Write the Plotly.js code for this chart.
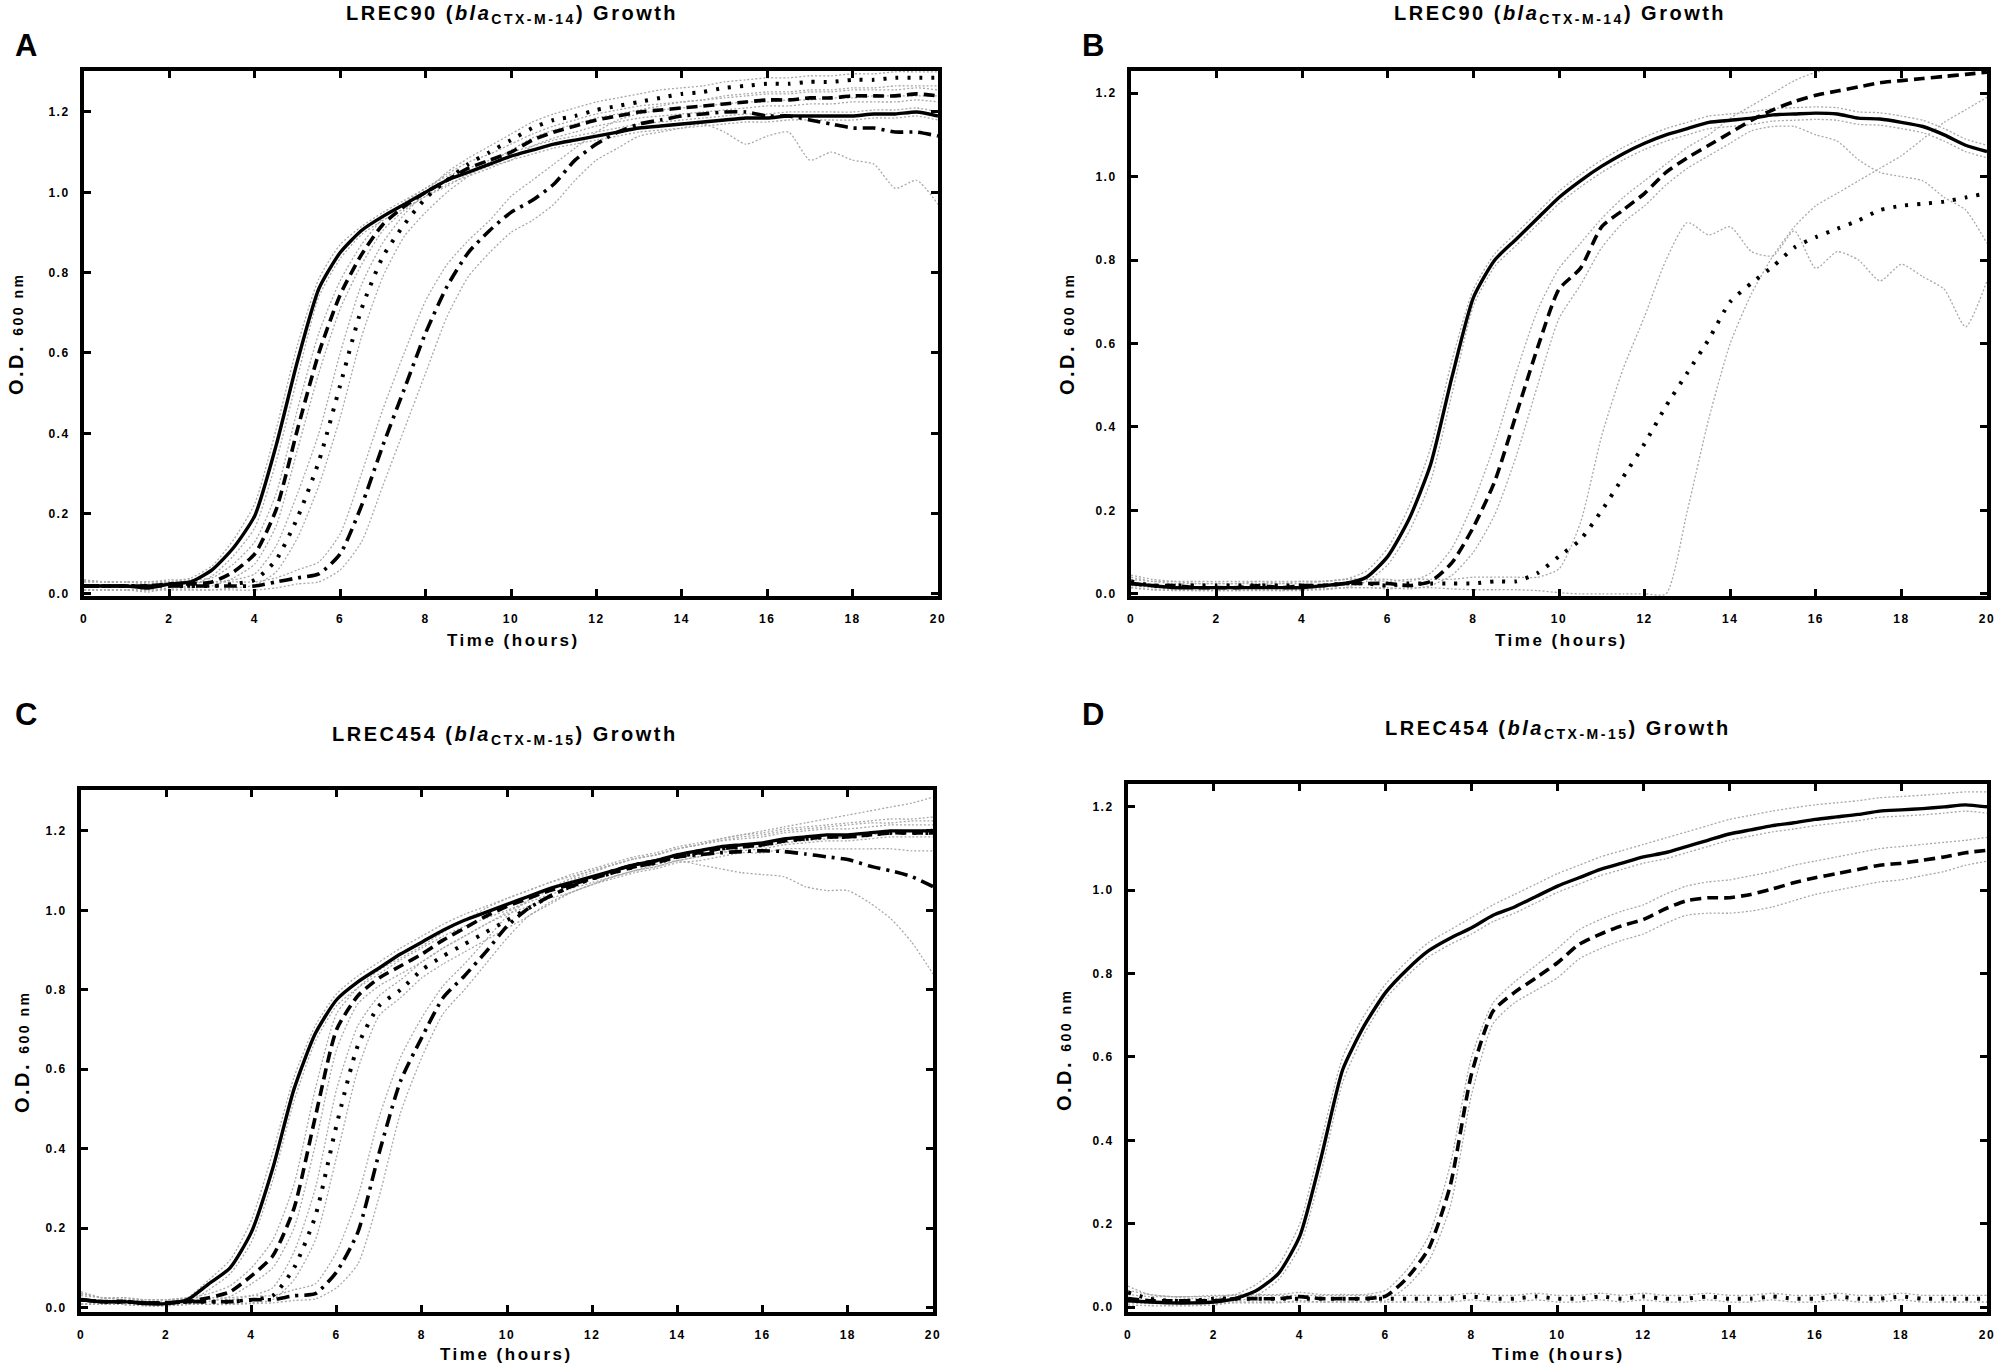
<!DOCTYPE html>
<html>
<head>
<meta charset="utf-8">
<script src="https://cdn.plot.ly/plotly-3.0.1.min.js"></script>
<style>
  html, body { margin:0; padding:0; background:#fff; }
  #chart { width:2000px; height:1365px; }
  .annotation-text { letter-spacing: 2.5px; }
  [class$="tick"] text { letter-spacing: 1.5px; }
</style>
</head>
<body>
<div id="chart"></div>
<script>
// ---------- time axis (hours) ----------
const T = [0,0.5,1,1.5,2,2.5,3,3.5,4,4.5,5,5.5,6,6.5,7,7.5,8,8.5,9,9.5,10,10.5,11,11.5,12,12.5,13,13.5,14,14.5,15,15.5,16,16.5,17,17.5,18,18.5,19,19.5,20];
const xTicks = [0,2,4,6,8,10,12,14,16,18,20];
const yTicks = [0,0.2,0.4,0.6,0.8,1.0,1.2];

// ---------- Panel A : LREC90 ----------
const A1  = [0.02,0.02,0.02,0.015,0.025,0.03,0.06,0.115,0.195,0.37,0.58,0.76,0.85,0.905,0.94,0.97,1.00,1.03,1.05,1.07,1.09,1.105,1.12,1.13,1.14,1.15,1.16,1.165,1.17,1.175,1.18,1.185,1.185,1.19,1.19,1.19,1.19,1.195,1.195,1.20,1.19];
const A1u = [0.035,0.03,0.03,0.025,0.03,0.04,0.07,0.135,0.225,0.41,0.62,0.785,0.87,0.915,0.95,0.98,1.01,1.04,1.06,1.08,1.10,1.115,1.13,1.14,1.15,1.16,1.17,1.175,1.18,1.185,1.19,1.195,1.195,1.2,1.2,1.2,1.2,1.205,1.205,1.21,1.20];
const A1l = [0.01,0.01,0.01,0.005,0.015,0.02,0.045,0.095,0.165,0.33,0.54,0.74,0.835,0.895,0.93,0.96,0.99,1.02,1.04,1.06,1.08,1.095,1.11,1.12,1.13,1.14,1.15,1.155,1.16,1.165,1.17,1.175,1.175,1.18,1.18,1.18,1.18,1.185,1.185,1.19,1.18];
const A2  = [0.02,0.02,0.02,0.02,0.025,0.025,0.03,0.055,0.10,0.21,0.41,0.60,0.745,0.845,0.92,0.965,1.00,1.03,1.06,1.08,1.10,1.13,1.15,1.165,1.18,1.19,1.20,1.205,1.21,1.215,1.22,1.225,1.23,1.23,1.235,1.235,1.24,1.24,1.24,1.245,1.24];
const A2u = [0.035,0.03,0.03,0.03,0.035,0.035,0.04,0.075,0.13,0.25,0.46,0.65,0.78,0.87,0.935,0.975,1.01,1.045,1.075,1.095,1.12,1.145,1.165,1.18,1.195,1.205,1.215,1.22,1.225,1.23,1.235,1.24,1.245,1.245,1.25,1.25,1.255,1.255,1.255,1.26,1.255];
const A2l = [0.01,0.01,0.01,0.01,0.015,0.015,0.02,0.04,0.075,0.17,0.36,0.55,0.71,0.82,0.905,0.955,0.99,1.015,1.045,1.065,1.08,1.115,1.135,1.15,1.165,1.175,1.185,1.19,1.195,1.20,1.205,1.21,1.215,1.215,1.22,1.22,1.225,1.225,1.225,1.23,1.225];
const A3  = [0.02,0.02,0.02,0.02,0.02,0.02,0.02,0.025,0.035,0.085,0.19,0.33,0.52,0.71,0.84,0.92,0.985,1.03,1.07,1.10,1.13,1.16,1.18,1.19,1.205,1.215,1.225,1.235,1.245,1.25,1.26,1.265,1.27,1.27,1.275,1.275,1.28,1.28,1.285,1.285,1.285];
const A3u = [0.03,0.03,0.03,0.03,0.03,0.03,0.03,0.035,0.05,0.12,0.25,0.40,0.60,0.77,0.875,0.945,1.00,1.05,1.085,1.115,1.145,1.175,1.195,1.21,1.225,1.235,1.245,1.255,1.26,1.265,1.275,1.28,1.285,1.285,1.29,1.29,1.295,1.295,1.30,1.30,1.30];
const A3l = [0.01,0.01,0.01,0.01,0.01,0.01,0.01,0.015,0.022,0.055,0.14,0.27,0.44,0.64,0.79,0.89,0.95,1.00,1.04,1.075,1.105,1.135,1.155,1.17,1.185,1.195,1.205,1.215,1.225,1.23,1.24,1.245,1.25,1.25,1.255,1.255,1.26,1.26,1.265,1.265,1.265];
const A4  = [0.02,0.02,0.02,0.02,0.02,0.02,0.02,0.02,0.02,0.03,0.04,0.05,0.10,0.22,0.37,0.51,0.65,0.765,0.85,0.905,0.95,0.98,1.02,1.08,1.12,1.15,1.17,1.18,1.19,1.195,1.20,1.20,1.19,1.19,1.18,1.17,1.16,1.16,1.15,1.15,1.14];
const A4u = [0.03,0.03,0.03,0.03,0.03,0.03,0.03,0.03,0.03,0.04,0.06,0.08,0.15,0.30,0.46,0.60,0.73,0.82,0.88,0.93,0.99,1.03,1.07,1.11,1.15,1.18,1.195,1.205,1.21,1.215,1.22,1.225,1.225,1.23,1.23,1.235,1.235,1.24,1.24,1.24,1.24];
const A4l = [0.01,0.01,0.01,0.01,0.01,0.01,0.01,0.01,0.01,0.015,0.025,0.03,0.06,0.13,0.27,0.41,0.55,0.69,0.79,0.85,0.90,0.93,0.97,1.03,1.08,1.11,1.14,1.15,1.16,1.17,1.15,1.12,1.14,1.15,1.08,1.10,1.08,1.07,1.01,1.03,0.97];

// ---------- Panel B : LREC90 ----------
const B1  = [0.025,0.02,0.015,0.015,0.015,0.015,0.015,0.015,0.015,0.02,0.025,0.04,0.09,0.18,0.31,0.52,0.71,0.80,0.85,0.90,0.95,0.99,1.025,1.055,1.08,1.10,1.115,1.13,1.135,1.14,1.148,1.15,1.152,1.15,1.14,1.138,1.13,1.12,1.10,1.075,1.06];
const B1u = [0.04,0.03,0.025,0.025,0.025,0.025,0.025,0.025,0.025,0.03,0.035,0.055,0.11,0.21,0.35,0.56,0.73,0.815,0.865,0.915,0.965,1.005,1.04,1.07,1.095,1.115,1.13,1.145,1.15,1.155,1.163,1.165,1.167,1.165,1.155,1.153,1.145,1.135,1.115,1.09,1.075];
const B1l = [0.015,0.01,0.008,0.008,0.008,0.008,0.008,0.008,0.008,0.012,0.015,0.03,0.07,0.15,0.27,0.48,0.69,0.785,0.835,0.885,0.935,0.975,1.01,1.04,1.065,1.085,1.10,1.115,1.12,1.125,1.133,1.135,1.137,1.135,1.125,1.123,1.115,1.105,1.085,1.06,1.045];
const B2  = [0.025,0.02,0.02,0.015,0.015,0.015,0.02,0.015,0.02,0.02,0.025,0.025,0.025,0.02,0.03,0.075,0.16,0.27,0.43,0.59,0.73,0.78,0.88,0.92,0.96,1.01,1.045,1.075,1.105,1.135,1.16,1.18,1.195,1.205,1.215,1.225,1.23,1.235,1.24,1.245,1.25];
const B2u = [0.035,0.03,0.03,0.025,0.025,0.025,0.03,0.025,0.03,0.03,0.035,0.035,0.035,0.03,0.05,0.11,0.22,0.36,0.53,0.68,0.78,0.84,0.90,0.95,0.99,1.03,1.07,1.10,1.14,1.17,1.20,1.23,1.25,1.26,1.265,1.27,1.27,1.275,1.275,1.28,1.28];
const B2l = [0.015,0.01,0.01,0.008,0.008,0.008,0.01,0.008,0.01,0.01,0.015,0.015,0.015,0.012,0.02,0.045,0.10,0.19,0.33,0.50,0.66,0.74,0.83,0.89,0.93,0.98,1.02,1.05,1.08,1.11,1.12,1.12,1.10,1.085,1.04,1.01,1.00,0.99,0.95,0.92,0.84];
const B3  = [0.03,0.02,0.02,0.02,0.02,0.02,0.02,0.02,0.02,0.02,0.025,0.025,0.02,0.025,0.025,0.025,0.025,0.03,0.03,0.05,0.09,0.13,0.20,0.28,0.36,0.45,0.53,0.61,0.70,0.745,0.785,0.83,0.855,0.875,0.895,0.92,0.93,0.935,0.94,0.95,0.96];
const B3a = [0.045,0.035,0.03,0.03,0.03,0.03,0.03,0.03,0.03,0.03,0.035,0.035,0.03,0.035,0.035,0.035,0.04,0.04,0.04,0.04,0.06,0.17,0.38,0.54,0.665,0.80,0.89,0.86,0.88,0.82,0.81,0.87,0.78,0.82,0.80,0.75,0.79,0.76,0.73,0.64,0.75];
const B3b = [0.02,0.015,0.012,0.012,0.012,0.012,0.012,0.012,0.012,0.012,0.015,0.015,0.012,0.015,0.015,0.012,0.01,0.01,0.01,0.008,0.003,0,0,0,0,0,0.20,0.42,0.60,0.72,0.81,0.88,0.93,0.96,0.99,1.02,1.05,1.09,1.13,1.16,1.19];

// ---------- Panel C : LREC454 ----------
const C1  = [0.02,0.015,0.015,0.01,0.01,0.02,0.06,0.10,0.19,0.35,0.55,0.69,0.775,0.82,0.855,0.89,0.92,0.95,0.975,0.995,1.015,1.035,1.055,1.07,1.085,1.10,1.115,1.125,1.14,1.15,1.16,1.165,1.17,1.18,1.185,1.19,1.19,1.195,1.20,1.20,1.20];
const C1u = [0.04,0.025,0.02,0.015,0.015,0.025,0.07,0.12,0.22,0.39,0.58,0.71,0.79,0.835,0.87,0.905,0.935,0.965,0.99,1.01,1.03,1.05,1.07,1.085,1.10,1.115,1.13,1.14,1.155,1.165,1.175,1.18,1.185,1.195,1.20,1.205,1.205,1.21,1.215,1.215,1.215];
const C1l = [0.01,0.008,0.008,0.005,0.005,0.012,0.045,0.085,0.165,0.32,0.52,0.67,0.76,0.805,0.84,0.875,0.905,0.935,0.96,0.98,1.0,1.02,1.04,1.055,1.07,1.085,1.10,1.11,1.125,1.135,1.145,1.15,1.155,1.165,1.17,1.175,1.175,1.18,1.185,1.185,1.185];
const C2  = [0.02,0.015,0.015,0.012,0.012,0.015,0.025,0.04,0.08,0.13,0.25,0.48,0.70,0.785,0.83,0.86,0.89,0.925,0.955,0.985,1.01,1.03,1.05,1.065,1.08,1.095,1.11,1.12,1.135,1.145,1.155,1.16,1.165,1.175,1.18,1.185,1.185,1.19,1.195,1.195,1.195];
const C2u = [0.035,0.025,0.025,0.02,0.02,0.025,0.035,0.055,0.10,0.17,0.31,0.55,0.74,0.805,0.85,0.88,0.91,0.945,0.975,1.005,1.03,1.05,1.07,1.09,1.105,1.12,1.135,1.145,1.16,1.17,1.18,1.19,1.195,1.205,1.21,1.215,1.22,1.225,1.23,1.23,1.235];
const C2l = [0.008,0.008,0.008,0.005,0.005,0.008,0.015,0.028,0.06,0.10,0.20,0.41,0.65,0.765,0.81,0.84,0.87,0.905,0.935,0.965,0.99,1.01,1.03,1.045,1.065,1.08,1.095,1.105,1.12,1.125,1.135,1.145,1.145,1.155,1.155,1.155,1.155,1.155,1.155,1.15,1.15];
const C3  = [0.02,0.015,0.015,0.012,0.012,0.015,0.015,0.015,0.02,0.03,0.10,0.23,0.46,0.66,0.76,0.80,0.85,0.885,0.915,0.945,0.975,1.005,1.035,1.06,1.08,1.095,1.11,1.12,1.135,1.145,1.155,1.16,1.165,1.175,1.18,1.185,1.185,1.19,1.195,1.195,1.195];
const C3u = [0.03,0.025,0.02,0.02,0.02,0.02,0.02,0.02,0.03,0.05,0.14,0.30,0.55,0.71,0.785,0.825,0.87,0.905,0.935,0.965,0.995,1.025,1.05,1.075,1.095,1.115,1.13,1.14,1.155,1.165,1.175,1.185,1.19,1.20,1.205,1.21,1.215,1.22,1.22,1.225,1.225];
const C3l = [0.01,0.008,0.008,0.005,0.005,0.008,0.008,0.01,0.012,0.02,0.07,0.17,0.38,0.60,0.735,0.78,0.83,0.865,0.895,0.925,0.955,0.985,1.02,1.045,1.065,1.085,1.10,1.11,1.125,1.135,1.145,1.155,1.16,1.17,1.175,1.18,1.185,1.19,1.195,1.20,1.205];
const C4  = [0.02,0.015,0.015,0.012,0.012,0.015,0.015,0.015,0.02,0.02,0.03,0.035,0.09,0.19,0.39,0.57,0.68,0.78,0.835,0.895,0.96,1.005,1.035,1.06,1.08,1.10,1.115,1.125,1.135,1.14,1.145,1.148,1.15,1.148,1.142,1.135,1.128,1.112,1.10,1.085,1.06];
const C4u = [0.035,0.025,0.025,0.02,0.02,0.025,0.025,0.025,0.03,0.03,0.045,0.06,0.14,0.28,0.48,0.63,0.73,0.81,0.865,0.925,0.985,1.025,1.055,1.08,1.10,1.115,1.13,1.14,1.155,1.165,1.18,1.19,1.20,1.21,1.22,1.23,1.24,1.25,1.26,1.27,1.285];
const C4l = [0.01,0.008,0.008,0.005,0.005,0.008,0.008,0.008,0.01,0.012,0.018,0.022,0.05,0.11,0.28,0.49,0.63,0.74,0.80,0.865,0.93,0.985,1.015,1.045,1.065,1.085,1.10,1.115,1.125,1.115,1.105,1.095,1.09,1.085,1.06,1.05,1.05,1.02,0.98,0.92,0.84];

// ---------- Panel D : LREC454 ----------
const D1  = [0.015,0.012,0.01,0.01,0.012,0.02,0.04,0.08,0.17,0.36,0.57,0.675,0.755,0.81,0.855,0.885,0.91,0.94,0.96,0.985,1.01,1.03,1.05,1.065,1.08,1.09,1.105,1.12,1.135,1.145,1.155,1.162,1.17,1.176,1.182,1.19,1.193,1.196,1.20,1.205,1.20];
const D1u = [0.04,0.03,0.025,0.02,0.02,0.03,0.055,0.10,0.20,0.40,0.60,0.70,0.775,0.83,0.875,0.905,0.935,0.965,0.99,1.015,1.04,1.06,1.08,1.095,1.11,1.125,1.14,1.155,1.17,1.18,1.19,1.198,1.205,1.21,1.215,1.222,1.225,1.228,1.232,1.236,1.236];
const D1l = [0.005,0.003,0.003,0.003,0.005,0.012,0.028,0.065,0.145,0.325,0.54,0.655,0.74,0.795,0.84,0.87,0.895,0.925,0.945,0.97,0.995,1.015,1.035,1.05,1.065,1.075,1.09,1.105,1.12,1.13,1.14,1.147,1.155,1.161,1.167,1.175,1.178,1.181,1.185,1.19,1.185];
const D2  = [0.02,0.015,0.015,0.015,0.015,0.02,0.02,0.02,0.025,0.02,0.02,0.02,0.026,0.07,0.14,0.29,0.56,0.71,0.755,0.79,0.826,0.87,0.895,0.915,0.93,0.955,0.975,0.982,0.982,0.99,1.003,1.018,1.03,1.04,1.05,1.06,1.065,1.072,1.08,1.09,1.096];
const D2u = [0.03,0.025,0.025,0.025,0.025,0.03,0.03,0.03,0.035,0.03,0.03,0.03,0.04,0.09,0.17,0.34,0.60,0.73,0.78,0.82,0.86,0.905,0.93,0.95,0.965,0.99,1.01,1.02,1.025,1.035,1.045,1.06,1.07,1.08,1.09,1.10,1.105,1.11,1.115,1.12,1.127];
const D2l = [0.01,0.008,0.008,0.008,0.008,0.01,0.01,0.01,0.015,0.012,0.012,0.012,0.015,0.05,0.11,0.24,0.51,0.68,0.73,0.76,0.79,0.835,0.86,0.88,0.895,0.92,0.94,0.945,0.945,0.95,0.96,0.975,0.99,1.0,1.01,1.02,1.025,1.035,1.045,1.06,1.07];
const D3  = [0.035,0.02,0.015,0.015,0.02,0.02,0.02,0.02,0.02,0.02,0.02,0.02,0.02,0.02,0.02,0.02,0.025,0.02,0.02,0.025,0.02,0.02,0.025,0.02,0.025,0.02,0.02,0.025,0.02,0.02,0.025,0.02,0.02,0.025,0.02,0.02,0.025,0.02,0.02,0.02,0.02];
const D3u = [0.05,0.03,0.025,0.025,0.028,0.028,0.028,0.028,0.028,0.028,0.028,0.028,0.028,0.028,0.028,0.028,0.033,0.028,0.028,0.033,0.028,0.028,0.033,0.028,0.033,0.028,0.028,0.033,0.028,0.028,0.033,0.028,0.028,0.033,0.028,0.028,0.033,0.028,0.028,0.028,0.028];
const D3l = [0.02,0.012,0.008,0.008,0.012,0.012,0.012,0.012,0.012,0.012,0.012,0.012,0.012,0.012,0.012,0.012,0.017,0.012,0.012,0.017,0.012,0.012,0.017,0.012,0.017,0.012,0.012,0.017,0.012,0.012,0.017,0.012,0.012,0.017,0.012,0.012,0.017,0.012,0.012,0.012,0.012];

// ---------- text ----------
const titleA = 'LREC90 (<i>bla</i><sub>CTX-M-14</sub>) Growth';
const titleC = 'LREC454 (<i>bla</i><sub>CTX-M-15</sub>) Growth';
const xLabel = 'Time (hours)';
const yLabel = 'O.D. <span style="font-size:14px">600 nm</span>';
const panelLetters = ['A','B','C','D'];

// ---------- styles ----------
const FONT = 'Liberation Sans, Arial, Helvetica, sans-serif';
const GRAY = {color:'#a9a9a9', width:1.3, dash:'2px,2px'};
const SOLID = {color:'#000', width:3.4};
const DASH = {color:'#000', width:3.6, dash:'11px,6px'};
const DOT = {color:'#000', width:4, dash:'3px,9px'};
const DASHDOT = {color:'#000', width:3.6, dash:'13px,6px,3px,6px'};

function tr(y, xa, ya, style) {
  return {x:T, y:y, xaxis:xa, yaxis:ya, type:'scatter', mode:'lines',
          line:Object.assign({shape:'spline', smoothing:0.6}, style),
          hoverinfo:'skip', showlegend:false};
}

const panels = [
  {xa:'x',  ya:'y',  series:[[A1,A1u,A1l,SOLID],[A2,A2u,A2l,DASH],[A3,A3u,A3l,DOT],[A4,A4u,A4l,DASHDOT]]},
  {xa:'x2', ya:'y2', series:[[B1,B1u,B1l,SOLID],[B2,B2u,B2l,DASH],[B3,B3a,B3b,DOT]]},
  {xa:'x3', ya:'y3', series:[[C1,C1u,C1l,SOLID],[C2,C2u,C2l,DASH],[C3,C3u,C3l,DOT],[C4,C4u,C4l,DASHDOT]]},
  {xa:'x4', ya:'y4', series:[[D1,D1u,D1l,SOLID],[D2,D2u,D2l,DASH],[D3,D3u,D3l,DOT]]}
];

const data = [];
panels.forEach(p => {
  p.series.forEach(s => {
    data.push(tr(s[1], p.xa, p.ya, GRAY));
    data.push(tr(s[2], p.xa, p.ya, GRAY));
  });
  p.series.slice().reverse().forEach(s => {
    data.push(tr(s[0], p.xa, p.ya, s[3]));
  });
});

const W = 2000, H = 1365;
const px = v => v / W;
const py = v => 1 - v / H;

function axisBase() {
  return {
    showline:true, mirror:'ticks', linecolor:'#000', linewidth:4,
    ticks:'inside', ticklen:7, tickwidth:3, tickcolor:'#000',
    showgrid:false, zeroline:false, fixedrange:true,
    tickfont:{family:FONT, size:12, color:'#000', weight:'bold'}
  };
}
function xAxis(l, r, anchor) {
  return Object.assign(axisBase(), {domain:[px(l), px(r)], anchor:anchor, range:[0,20],
    tickmode:'array', tickvals:xTicks, ticktext:xTicks.map(String), ticklabelstandoff:9});
}
function yAxis(top, bottom, anchor, range) {
  return Object.assign(axisBase(), {domain:[py(bottom), py(top)], anchor:anchor, range:range,
    tickmode:'array', tickvals:yTicks, ticktext:yTicks.map(v => v.toFixed(1)), ticklabelstandoff:8});
}

const ann = [];
function addText(text, x, y, size, angle) {
  ann.push({text:text, xref:'paper', yref:'paper', x:px(x), y:py(y), xanchor:'center', yanchor:'middle',
            showarrow:false, textangle:angle || 0,
            font:{family:FONT, size:size, color:'#000', weight:'bold'}});
}
addText(titleA, 512, 15, 20);
addText(titleA, 1560, 15, 20);
addText(titleC, 505, 735, 20);
addText(titleC, 1558, 729, 20);
addText(panelLetters[0], 27, 46, 31);
addText(panelLetters[1], 1094, 46, 31);
addText(panelLetters[2], 27, 714, 31);
addText(panelLetters[3], 1094, 714, 31);
addText(xLabel, 513, 640, 17);
addText(xLabel, 1561, 640, 17);
addText(xLabel, 506, 1354, 17);
addText(xLabel, 1558, 1354, 17);
addText(yLabel, 16, 334, 20, -90);
addText(yLabel, 1067, 334, 20, -90);
addText(yLabel, 22, 1052, 20, -90);
addText(yLabel, 1064, 1050, 20, -90);

const layout = {
  width:W, height:H, margin:{l:0, r:0, t:0, b:0},
  paper_bgcolor:'#fff', plot_bgcolor:'#fff', showlegend:false,
  font:{family:FONT, color:'#000'},
  xaxis:  xAxis(84, 938, 'y'),
  yaxis:  yAxis(71, 596, 'x', [-0.005, 1.302]),
  xaxis2: xAxis(1131, 1987, 'y2'),
  yaxis2: yAxis(71, 596, 'x2', [-0.005, 1.253]),
  xaxis3: xAxis(81, 933, 'y3'),
  yaxis3: yAxis(790, 1312, 'x3', [-0.011, 1.303]),
  xaxis4: xAxis(1128, 1987, 'y4'),
  yaxis4: yAxis(784, 1312, 'x4', [-0.012, 1.255]),
  annotations: ann
};

Plotly.newPlot('chart', data, layout, {staticPlot:true, displayModeBar:false});
</script>
</body>
</html>
